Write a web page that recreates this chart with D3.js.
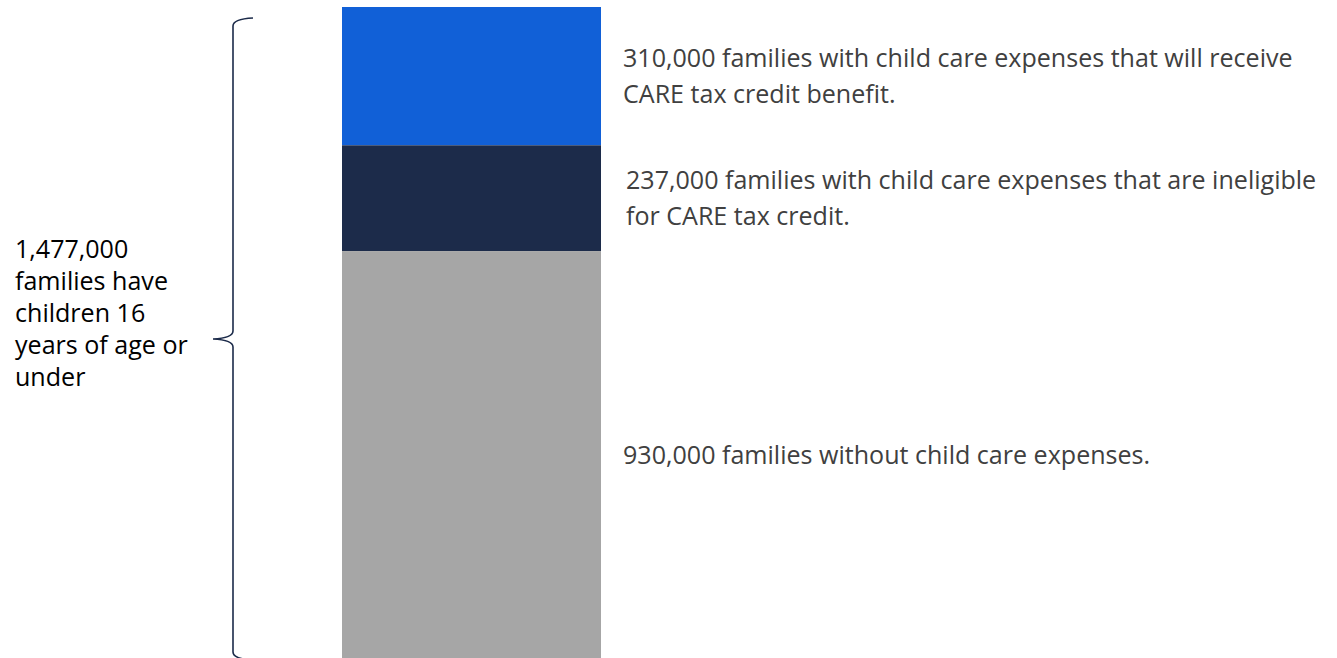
<!DOCTYPE html>
<html>
<head>
<meta charset="utf-8">
<script src="https://cdn.jsdelivr.net/npm/d3@7"></script>
<style>
  html, body { margin: 0; padding: 0; background: #fff; overflow: hidden; }
  svg { display: block; }
  text { font-family: "Open Sans", "Noto Sans", sans-serif; }
</style>
</head>
<body>
<svg id="chart"></svg>
<script>
var width = 1337, height = 658;

// data
var segments = ["receive", "ineligible", "without"];
var values = [310000, 237000, 930000];
var colors = ["#1160d7", "#1c2b4a", "#a6a6a6"];
var labels = [
  ["310,000 families with child care expenses that will receive", "CARE tax credit benefit."],
  ["237,000 families with child care expenses that are ineligible", "for CARE tax credit."],
  ["930,000 families without child care expenses."]
];
var totalLabel = ["1,477,000", "families have", "children 16", "years of age or", "under"];

var total = d3.sum(values);

var svg = d3.select("#chart")
  .attr("width", width)
  .attr("height", height);

var yScale = d3.scaleLinear()
  .domain([0, total])
  .range([666, 7]);

var xScale = d3.scaleBand()
  .domain(["families"])
  .range([342, 601])
  .padding(0);

// stack
var stacked = [];
var acc = total;
values.forEach(function(v, i) {
  stacked.push({ key: segments[i], y0: acc - v, y1: acc, color: colors[i], label: labels[i] });
  acc -= v;
});

svg.selectAll("rect.seg")
  .data(stacked)
  .enter()
  .append("rect")
  .attr("class", "seg")
  .attr("x", xScale("families"))
  .attr("width", xScale.bandwidth())
  .attr("y", function(d) { return yScale(d.y1); })
  .attr("height", function(d) { return yScale(d.y0) - yScale(d.y1); })
  .attr("fill", function(d) { return d.color; });

// font size fitted so the longest line matches the reference width
var probe = svg.append("text").attr("font-size", 100).text(labels[0][0]);
var fs = 100 * 670 / probe.node().getComputedTextLength();
probe.remove();
var lineH = 36;

var lab = svg.selectAll("text.lab")
  .data(stacked)
  .enter()
  .append("text")
  .attr("class", "lab")
  .attr("font-size", fs)
  .attr("fill", "#404040");

lab.each(function(d, k) {
  var mid = Math.min((yScale(d.y0) + yScale(d.y1)) / 2, 455);
  var n = d.label.length;
  d3.select(this).selectAll("tspan")
    .data(d.label)
    .enter()
    .append("tspan")
    .attr("x", k == 1 ? 626 : 623)
    .attr("y", function(t, i) { return mid + (i - (n - 1) / 2) * lineH + fs * 0.36; })
    .text(function(t) { return t; });
});

// brace for total
var bTop = yScale(total) + 11, bBot = yScale(0) - 6;
var bMid = (bTop + bBot) / 2;
var bx = 233;
var brace = "M" + (bx + 20) + "," + bTop +
  " Q" + bx + "," + (bTop + 1) + " " + bx + "," + (bTop + 8) +
  " L" + bx + "," + (bMid - 8) +
  " Q" + bx + "," + (bMid - 1) + " " + (bx - 20) + "," + bMid +
  " Q" + bx + "," + (bMid + 1) + " " + bx + "," + (bMid + 8) +
  " L" + bx + "," + (bBot - 8) +
  " Q" + bx + "," + (bBot - 1) + " " + (bx + 20) + "," + bBot;
svg.append("path")
  .attr("d", brace)
  .attr("fill", "none")
  .attr("stroke", "#1c2b4a")
  .attr("stroke-width", 1.6);

svg.append("text")
  .attr("font-size", fs)
  .attr("fill", "#000")
  .selectAll("tspan")
  .data(totalLabel)
  .enter()
  .append("tspan")
  .attr("x", 15)
  .attr("y", function(t, i) { return 258 + i * 32; })
  .text(function(t) { return t; });
</script>
</body>
</html>
